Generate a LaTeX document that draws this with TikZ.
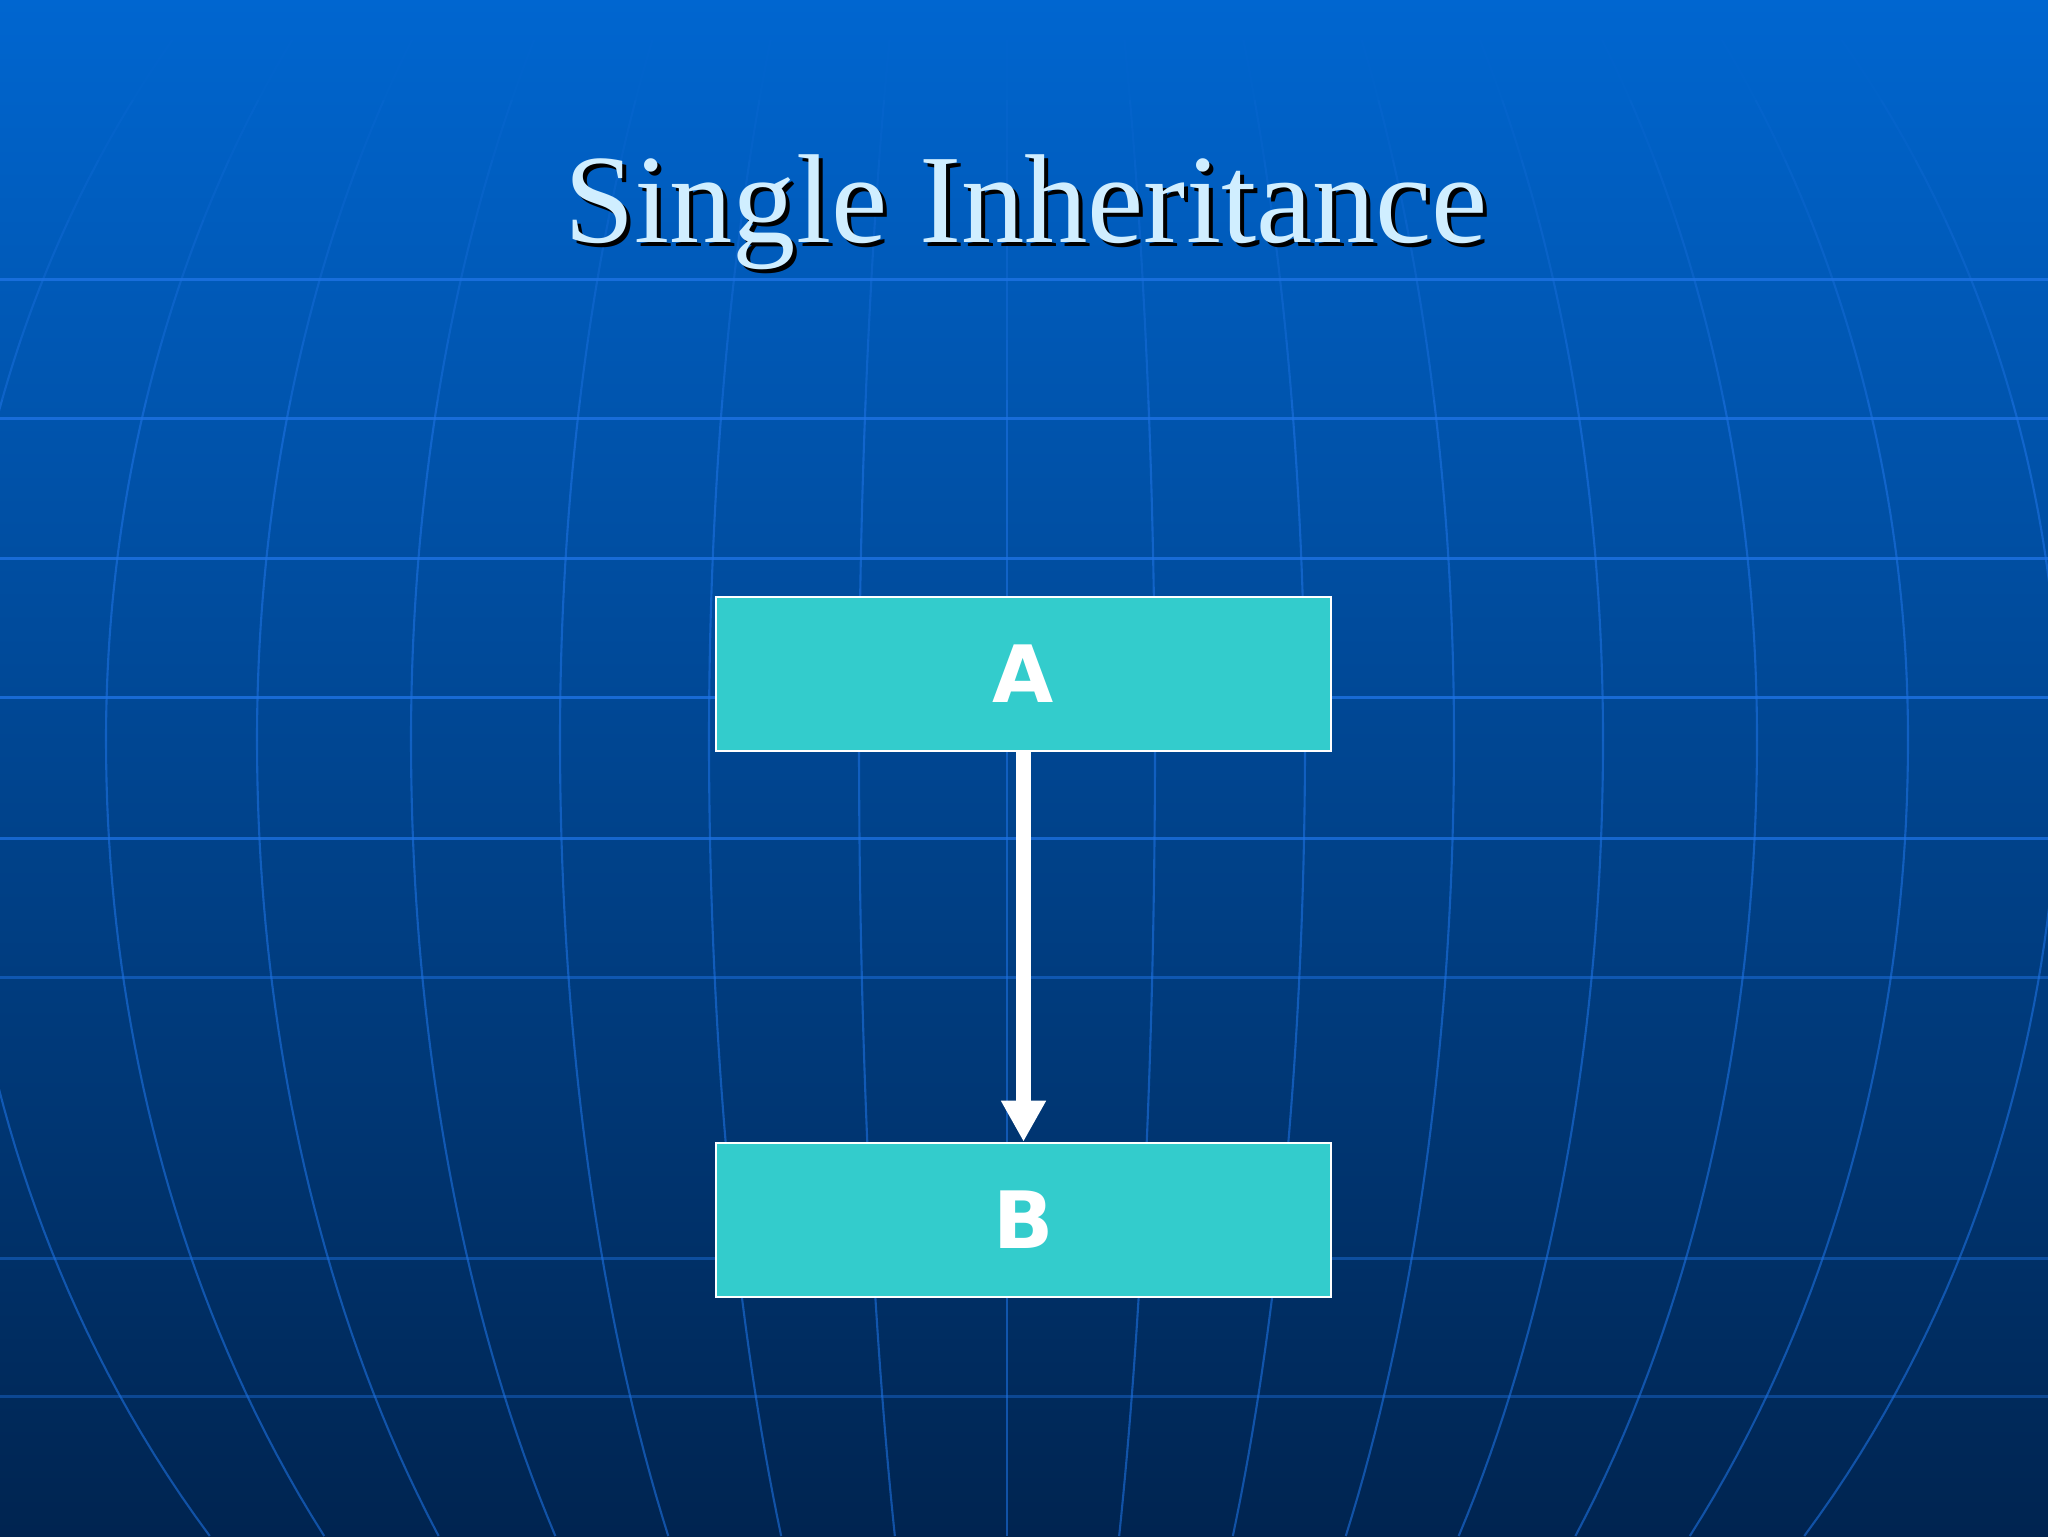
\documentclass[tikz,border=0pt]{standalone}
\usepackage{fontspec}
\setmainfont{Liberation Serif}
\newfontfamily\labelfont{DejaVu Sans}
\usetikzlibrary{arrows.meta}
\definecolor{bgtop}{RGB}{0,102,208}
\definecolor{bgmid}{RGB}{0,74,150}
\definecolor{bgbot}{RGB}{0,36,80}
\definecolor{gridc}{RGB}{30,115,228}
\definecolor{boxfill}{RGB}{51,204,204}
\definecolor{titlec}{RGB}{208,238,255}
\tikzset{
  classbox/.style={draw=white, line width=0.7pt, fill=boxfill, rectangle,
    minimum width=61.5mm, minimum height=15.4mm, inner sep=0pt,
    text=white, font=\labelfont\bfseries\fontsize{22.5}{26}\selectfont},
  hline/.style={draw=gridc, line width=0.85pt},
  mline/.style={draw=gridc, line width=0.6pt},
  inherit/.style={draw=white, line width=4.3pt,
    -{Triangle[width=12pt,length=11.7pt]}},
  titletext/.style={font=\fontsize{36}{40}\selectfont, anchor=base, inner sep=0pt}
}
\begin{document}
\begin{tikzpicture}[x=0.1mm,y=-0.1mm]
\useasboundingbox (0,0) rectangle (2048,1536);
% background
\shade[top color=bgtop, middle color=bgmid, bottom color=bgbot] (0,0) rectangle (2048,1536);
% latitude lines
\foreach \yy/\op in {279/0.8,418/0.8,558/0.8,697/0.8,838/0.75,977/0.5,1258/0.45,1396/0.4}
  \draw[hline, opacity=\op] (0,\yy) -- (2048,\yy);
% meridians: upper half
\foreach \d in {0,148,298,447,596,750,901,1052,-148,-298,-447,-596,-750,-901,-1052}{
  \foreach \a/\b/\o in {40/100/0.06,100/160/0.14,160/220/0.22,220/280/0.3,280/340/0.38,340/400/0.46,400/740/0.58}{
    \draw[mline, opacity=\o] plot[domain=\a:\b, samples=25, variable=\t]
      ({1007-\d*sqrt(1-((\t-740)/1150)^2)}, \t);
  }
  % lower half
  \draw[mline, opacity=0.58] plot[domain=740:1536, samples=40, variable=\t]
      ({1007-\d*sqrt(1-((\t-740)/1220)^2)}, \t);
}
% title
\node[titletext, text=black] (titleshadow) at (1030,246) {Single Inheritance};
\node[titletext, text=titlec] (title) at (1026,242) {Single Inheritance};
% classes
\node[classbox] (A) at (1023.5,674) {A};
\node[classbox] (B) at (1023.5,1220) {B};
\draw[inherit] (A.south) -- (B.north);
\end{tikzpicture}
\end{document}
